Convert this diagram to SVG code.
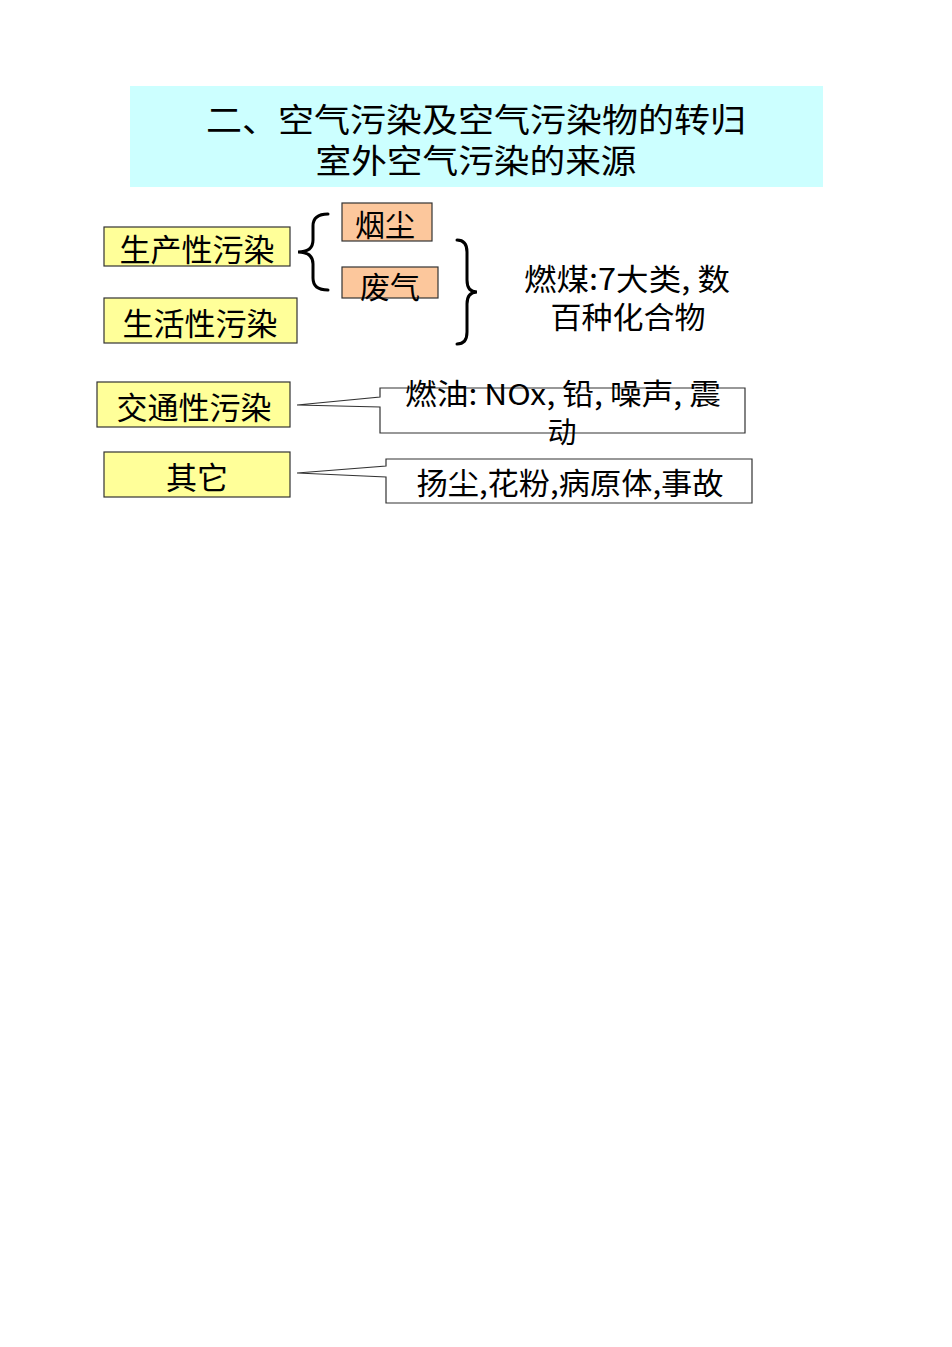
<svg xmlns="http://www.w3.org/2000/svg" width="952" height="1347" viewBox="0 0 952 1347">
<style>
.t{font-family:"Noto Sans CJK SC","Noto Sans CJK JP",sans-serif;fill:#000;text-anchor:middle}
.y{fill:#ffff99;stroke:#333;stroke-width:1.2}
.o{fill:#fcc79c;stroke:#333;stroke-width:1.2}
.c{fill:#fff;stroke:#333;stroke-width:1.2}
.br{fill:none;stroke:#000;stroke-width:3;stroke-linecap:round}
</style>
<rect width="952" height="1347" fill="#fff"/>
<g id="title">
<rect x="130" y="86" width="693" height="101" fill="#ccffff"/>
<text class="t" x="476" y="132" font-size="33" textLength="540" lengthAdjust="spacingAndGlyphs">二、空气污染及空气污染物的转归</text>
<text class="t" x="476" y="173" font-size="33" textLength="321" lengthAdjust="spacingAndGlyphs">室外空气污染的来源</text>
</g>
<g id="connectors">
<path class="br" d="M328,214 Q313,214 313,226 L313,240 Q313,252 298,252 Q313,252 313,264 L313,278 Q313,290 328,290"/>
<path class="br" d="M457,240 Q467,240 467,252 L467,280 Q467,292 477,292 Q467,292 467,304 L467,332 Q467,344 457,344"/>
</g>
<g id="n-production">
<rect class="y" x="104" y="227" width="186" height="39"/>
<text class="t" x="197" y="261" font-size="31">生产性污染</text>
</g>
<g id="n-living">
<rect class="y" x="104" y="298" width="193" height="45"/>
<text class="t" x="200" y="335" font-size="31">生活性污染</text>
</g>
<g id="n-smoke">
<rect class="o" x="342" y="203" width="90" height="38"/>
<text class="t" x="385" y="236" font-size="30">烟尘</text>
</g>
<g id="n-gas">
<rect class="o" x="342" y="267" width="96" height="31"/>
<text class="t" x="390" y="298" font-size="30">废气</text>
</g>
<g id="n-coal">
<text class="t" x="627" y="290" font-size="30" textLength="206" lengthAdjust="spacingAndGlyphs">燃煤:7大类, 数</text>
<text class="t" x="628" y="328" font-size="30" textLength="155" lengthAdjust="spacingAndGlyphs">百种化合物</text>
</g>
<g id="n-traffic">
<rect class="y" x="97" y="382" width="193" height="45"/>
<text class="t" x="194" y="419" font-size="31">交通性污染</text>
</g>
<g id="n-traffic-note">
<path class="c" d="M380,388 L745,388 L745,433 L380,433 L380,407 L297,405 L380,397 Z"/>
<text class="t" x="563" y="405" font-size="29" textLength="316" lengthAdjust="spacingAndGlyphs">燃油: NOx, 铅, 噪声, 震</text>
<text class="t" x="562" y="443" font-size="29">动</text>
</g>
<g id="n-other">
<rect class="y" x="104" y="452" width="186" height="45"/>
<text class="t" x="197" y="489" font-size="31">其它</text>
</g>
<g id="n-other-note">
<path class="c" d="M386,459 L752,459 L752,503 L386,503 L386,477 L297,473 L386,466 Z"/>
<text class="t" x="570" y="494" font-size="30" textLength="307" lengthAdjust="spacingAndGlyphs">扬尘,花粉,病原体,事故</text>
</g>
</svg>
